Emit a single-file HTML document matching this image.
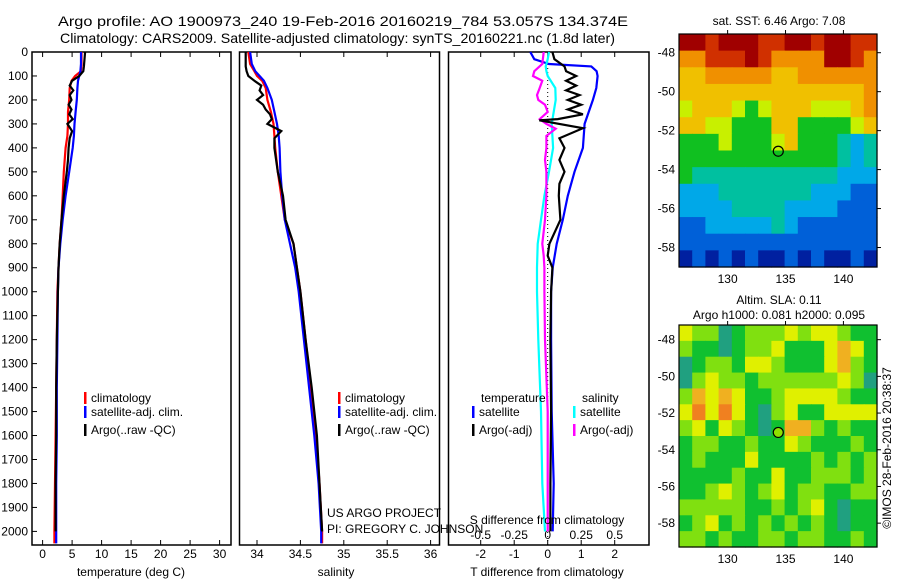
<!DOCTYPE html>
<html><head><meta charset="utf-8"><style>
html,body{margin:0;padding:0;background:#fff;}
svg text{font-family:"Liberation Sans",sans-serif;fill:#000;}
</style></head><body>
<svg id="chart" width="900" height="580" viewBox="0 0 900 580" xmlns="http://www.w3.org/2000/svg">
<rect width="900" height="580" fill="#fff"/>
<text x="58" y="26" font-size="14" textLength="570" lengthAdjust="spacingAndGlyphs">Argo profile: AO 1900973_240 19-Feb-2016 20160219_784 53.057S 134.374E</text>
<text x="60" y="43" font-size="14" textLength="555" lengthAdjust="spacingAndGlyphs">Climatology: CARS2009. Satellite-adjusted climatology: synTS_20160221.nc (1.8d later)</text>
<g id="g"></g>
</svg>
<script>
// ---- profile data ----
const depthsClim = [0,50,80,100,120,150,200,250,300,350,400,500,600,700,800,900,1000,1200,1400,1600,1800,2000,2050];
const tempClim = [6.6,6.6,6.5,5.5,4.9,4.6,4.5,4.3,4.3,4.2,3.9,3.6,3.4,3.2,2.9,2.7,2.5,2.4,2.3,2.2,2.1,2.0,2.0];
const tempSat = [6.5,6.5,6.4,6.2,6.0,5.9,5.8,5.6,5.4,5.3,5.1,4.5,3.9,3.4,3.0,2.7,2.6,2.5,2.4,2.4,2.3,2.3,2.3];
const salClim = [33.9,33.92,33.97,34.0,34.06,34.1,34.12,34.16,34.19,34.2,34.21,34.24,34.28,34.32,34.42,34.46,34.5,34.56,34.62,34.68,34.72,34.75,34.75];
const salSat = [33.92,33.94,33.98,34.03,34.08,34.12,34.17,34.2,34.23,34.25,34.26,34.27,34.29,34.32,34.38,34.44,34.48,34.54,34.6,34.66,34.71,34.74,34.74];
const depthsArgo = [0,30,60,80,100,120,140,160,180,200,220,240,260,280,300,330,360,400,450,500,600,700,800,900,1000,1200,1400,1600,1800,2000];
const tempArgo = [7.2,7.1,7.0,6.9,6.2,5.0,4.6,5.2,4.6,4.9,4.4,4.9,4.5,5.1,4.2,5.0,4.6,4.4,4.3,4.1,3.6,3.2,2.9,2.7,2.6,2.4,2.3,2.3,2.2,2.2];
const salArgo = [33.87,33.87,33.87,33.88,33.9,33.97,34.05,34.03,34.07,34.0,34.07,34.1,34.15,34.17,34.12,34.28,34.2,34.2,34.22,34.24,34.3,34.33,34.42,34.46,34.5,34.56,34.63,34.69,34.72,34.75];
const depthsDiff = [0,30,50,60,80,100,150,200,300,400,500,600,700,800,900,1000,1200,1500,1800,2000];
const tDiffSat = [-0.52,-0.4,0.04,1.3,1.46,1.49,1.45,1.35,1.1,1.05,0.8,0.6,0.45,0.27,0.15,0.1,0.1,0.12,0.18,0.15];
const sDiffSat = [0.01,0.0,-0.01,-0.015,-0.01,0.0,0.057,0.06,0.03,0.04,0.01,-0.025,-0.05,-0.075,-0.08,-0.08,-0.07,-0.05,-0.04,-0.02];
const depthsTDiffArgo = [0,30,60,80,100,120,140,160,180,200,220,240,260,280,285,318,360,400,450,500,550,600,700,800,850,900,1000,1200,1500,1800,2000];
const tDiffArgo = [0.14,0.2,0.5,0.55,0.85,0.55,0.85,0.55,0.95,0.6,1.0,0.6,1.05,0.3,-0.25,1.05,0.35,0.5,0.35,0.5,0.35,0.33,0.38,0.05,0.0,0.14,0.1,0.08,0.1,0.08,0.08];
const depthsSDiffArgo = [0,50,80,100,120,150,180,200,220,250,280,300,320,350,400,450,500,600,700,800,850,900,1000,1200,1500,1800,2000];
const sDiffArgo = [-0.03,-0.04,-0.1,-0.11,-0.04,-0.06,-0.08,-0.07,-0.02,0.0,-0.06,-0.01,0.06,-0.01,-0.01,-0.02,-0.01,-0.01,-0.02,-0.04,-0.03,-0.025,-0.025,-0.02,0.0,0.0,0.0];
const depthTicks = [0,100,200,300,400,500,600,700,800,900,1000,1100,1200,1300,1400,1500,1600,1700,1800,1900,2000];
const tempTicks = [0,5,10,15,20,25,30];
const salTicks = [34,34.5,35,35.5,36];
const tDiffTicks = [-2,-1,0,1,2];
const sDiffTicks = [-0.5,-0.25,0,0.25,0.5];
// ---- map data (colour class per cell, rows north->south) ----
const sstGrid = [
[9,9,8,9,9,9,8,8,9,9,8,9,9,8,8],
[7,7,8,8,8,9,8,7,7,7,7,9,9,8,7],
[6,6,7,7,7,7,7,6,6,7,7,7,7,7,7],
[6,6,6,6,6,6,6,6,6,6,6,6,6,6,7],
[5,6,6,6,5,4,5,6,6,6,5,5,5,6,7],
[6,6,5,5,4,4,4,6,6,4,4,4,4,5,6],
[4,4,4,5,4,4,4,5,6,4,4,4,3,2,3],
[4,4,4,4,4,4,4,4,4,4,4,4,3,2,3],
[4,3,3,3,3,3,3,3,3,3,3,3,2,2,2],
[2,2,2,3,3,3,3,3,3,3,2,2,2,1,1],
[2,2,2,2,3,3,3,3,2,2,2,2,1,1,1],
[1,1,2,2,2,2,2,3,2,1,1,1,1,1,1],
[1,1,1,1,1,1,1,1,1,1,1,1,1,1,1],
[0,1,0,1,0,1,0,0,1,0,1,0,0,1,0]];
const slaGrid = [
[3,2,2,0,1,2,2,2,3,2,3,3,2,1,1],
[2,1,1,0,1,2,2,3,1,1,1,3,4,3,1],
[0,1,2,2,1,3,3,2,1,1,1,3,4,2,1],
[0,2,3,2,2,1,2,2,2,2,2,2,3,2,0],
[2,4,3,4,3,1,1,2,3,3,3,3,2,1,1],
[3,5,3,5,3,1,0,2,3,1,1,3,3,3,3],
[2,3,1,3,2,1,0,1,4,4,2,1,2,1,1],
[1,2,2,1,1,2,1,1,3,2,1,1,1,2,1],
[1,2,1,1,1,3,1,1,1,1,2,1,2,1,2],
[1,1,1,1,2,1,1,3,1,1,2,2,2,1,2],
[1,1,2,3,2,1,2,3,1,2,2,1,1,2,2],
[2,2,2,2,2,1,1,2,1,2,3,1,0,1,1],
[1,2,3,1,2,1,2,1,2,1,2,1,0,1,1],
[2,2,1,2,1,1,2,2,1,2,2,1,1,2,1]];
const latTicks = [-48,-50,-52,-54,-56,-58];
const lonTicks = [130,135,140];
const floatLon = 134.374, floatLat = -53.057;

const NS='http://www.w3.org/2000/svg';
const G=document.getElementById('g');
function mk(tag,attrs,parent,text){const e=document.createElementNS(NS,tag);for(const k in attrs)e.setAttribute(k,attrs[k]);if(text!==undefined)e.textContent=text;(parent||G).appendChild(e);return e;}
const yD = d => 52 + d*0.2397;
const xT = t => 42.6 + t*5.9;
const xS = s => 257 + (s-34)*86.8;
const xTd = t => 547.7 + t*33.5;
const xSd = s => 547.7 + s*134;
function line(xs,ds,fx,color,name,w){
  const pts=xs.map((v,i)=>fx(v).toFixed(1)+','+yD(ds[i]).toFixed(1)).join(' ');
  const p=mk('polyline',{points:pts,fill:'none',stroke:color,'stroke-width':w||2.2,'stroke-linejoin':'miter'});
  
  
}
function frame(x0,x1,name){
  const r=mk('rect',{x:x0,y:52,width:x1-x0,height:493,fill:'none',stroke:'#000','stroke-width':1.5});
  
  
}
function xTicks(ticks,fx,name,yl){
  ticks.forEach(t=>{const x=fx(t);
    mk('line',{x1:x,x2:x,y1:545,y2:540,stroke:'#000'});
    mk('line',{x1:x,x2:x,y1:52,y2:57,stroke:'#000'});
    const tx=mk('text',{x:x,y:yl||558,'font-size':12,'text-anchor':'middle'},G,String(t));
    
    
  });
}
// panel 1
frame(32,231,'temperature-panel');
depthTicks.forEach(d=>{
  mk('line',{x1:32,x2:37,y1:yD(d),y2:yD(d),stroke:'#000'});
  const t=mk('text',{x:28,y:yD(d)+4,'font-size':12,'text-anchor':'end'},G,String(d));
  
  
});
xTicks(tempTicks,xT,'temperature-tick-label');
line(tempClim,depthsClim,xT,'#f00','temp-climatology-line');
line(tempSat,depthsClim,xT,'#00f','temp-satellite-line');
line(tempArgo,depthsArgo,xT,'#000','temp-argo-line');
// panel 2
frame(239.5,439.5,'salinity-panel');
xTicks(salTicks,xS,'salinity-tick-label');
line(salClim,depthsClim,xS,'#f00','sal-climatology-line');
line(salSat,depthsClim,xS,'#00f','sal-satellite-line');
line(salArgo,depthsArgo,xS,'#000','sal-argo-line');
// panel 3
frame(448.5,649,'difference-panel');
xTicks(tDiffTicks,xTd,'t-diff-tick-label');
sDiffTicks.forEach(s=>{const t=mk('text',{x:xSd(s),y:539,'font-size':12,'text-anchor':'middle'},G,String(s));
  
  });
mk('line',{x1:547.7,x2:547.7,y1:52,y2:545,stroke:'#000','stroke-dasharray':'1,3'});
line(tDiffSat,depthsDiff,xTd,'#00f','t-diff-satellite-line');
line(sDiffSat,depthsDiff,xSd,'#0ff','s-diff-satellite-line');
line(sDiffArgo,depthsSDiffArgo,xSd,'#f0f','s-diff-argo-line');
line(tDiffArgo,depthsTDiffArgo,xTd,'#000','t-diff-argo-line');

function txt(x,y,s,name,size,anchor){const t=mk('text',{x:x,y:y,'font-size':size||12,'text-anchor':anchor||'start'},G,s);
  
  return t;}
function legend(x,y,color,label,name){
  const r=mk('rect',{x:x,y:y-10,width:2.5,height:12,fill:color});
  
  
  txt(x+7,y,label,name,12);
}
txt(131,576,'temperature (deg C)','temperature-axis-title',12,'middle');
txt(336,576,'salinity','salinity-axis-title',12,'middle');
txt(547,576,'T difference from climatology','t-diff-axis-title',12,'middle');
txt(547,524,'S difference from climatology','s-diff-axis-title',12,'middle');
legend(84,402,'#f00','climatology','legend-climatology');
legend(84,416,'#00f','satellite-adj. clim.','legend-satellite-adj');
legend(84,434,'#000','Argo(..raw -QC)','legend-argo-raw');
legend(338,402,'#f00','climatology','legend-climatology-2');
legend(338,416,'#00f','satellite-adj. clim.','legend-satellite-adj-2');
legend(338,434,'#000','Argo(..raw -QC)','legend-argo-raw-2');
txt(481,402,'temperature','legend-temperature-heading',12);
txt(582,402,'salinity','legend-salinity-heading',12);
legend(472,416,'#00f','satellite','legend-t-satellite');
legend(472,434,'#000','Argo(-adj)','legend-t-argo');
legend(573,416,'#0ff','satellite','legend-s-satellite');
legend(573,434,'#f0f','Argo(-adj)','legend-s-argo');
txt(327,517,'US ARGO PROJECT','credit-project',12);
txt(327,533,'PI: GREGORY C. JOHNSON','credit-pi',12);

// maps
const sstColors=['#0020a0','#0060d8','#00a8e8','#00c0a0','#10c020','#c8f000','#f0c000','#f09000','#d03000','#a00000'];
const slaColors=['#20a080','#10c030','#80e010','#e0f000','#f0b020','#f08020'];
function drawMap(grid,colors,x0,y0,x1,y1,latTop,latBot,name,dotFill){
  const lonL=125.8,lonR=142.9;
  const nr=grid.length,nc=grid[0].length;
  const cw=(x1-x0)/nc,ch=(y1-y0)/nr;
  const mg=mk('g',{});
  
  
  grid.forEach((row,i)=>row.forEach((v,j)=>{
    const c=mk('rect',{x:(x0+j*cw).toFixed(2),y:(y0+i*ch).toFixed(2),width:(cw+0.6).toFixed(2),height:(ch+0.6).toFixed(2),fill:colors[v]},mg);
    
    
  }));
  const fx=lon=>x0+(lon-lonL)/(lonR-lonL)*(x1-x0);
  const fy=lat=>y0+(latTop-lat)/(latTop-latBot)*(y1-y0);
  mk('rect',{x:x0,y:y0,width:x1-x0,height:y1-y0,fill:'none',stroke:'#000','stroke-width':1.2});
  latTicks.forEach(l=>{const y=fy(l);
    mk('line',{x1:x1,x2:x1+4,y1:y,y2:y,stroke:'#000'});
    txt(x0-4,y+4,String(l),'latitude-tick-label',12,'end');});
  lonTicks.forEach(l=>{const x=fx(l);
    mk('line',{x1:x,x2:x,y1:y0,y2:y0-4,stroke:'#000'});
    txt(x,y1+16,String(l),'longitude-tick-label',12,'middle');});
  const c=mk('circle',{cx:fx(floatLon),cy:fy(floatLat),r:5,fill:dotFill,stroke:'#000','stroke-width':1.2});
  
  
}
drawMap(sstGrid,sstColors,679,34,877,267,-47.04,-59.0,'sst-map','none');
drawMap(slaGrid,slaColors,679,325,877,547,-47.2,-59.3,'sla-map','#90e000');
txt(779,25,'sat. SST: 6.46 Argo: 7.08','sst-map-title',12,'middle');
txt(779,304,'Altim. SLA: 0.11','sla-map-title',12,'middle');
txt(779,319,'Argo h1000: 0.081 h2000: 0.095','sla-map-subtitle',12,'middle');
const rt=txt(0,0,'©IMOS 28-Feb-2016 20:38:37','timestamp',12,'middle');
rt.setAttribute('transform','translate(891,448) rotate(-90)');
</script>
</body></html>
